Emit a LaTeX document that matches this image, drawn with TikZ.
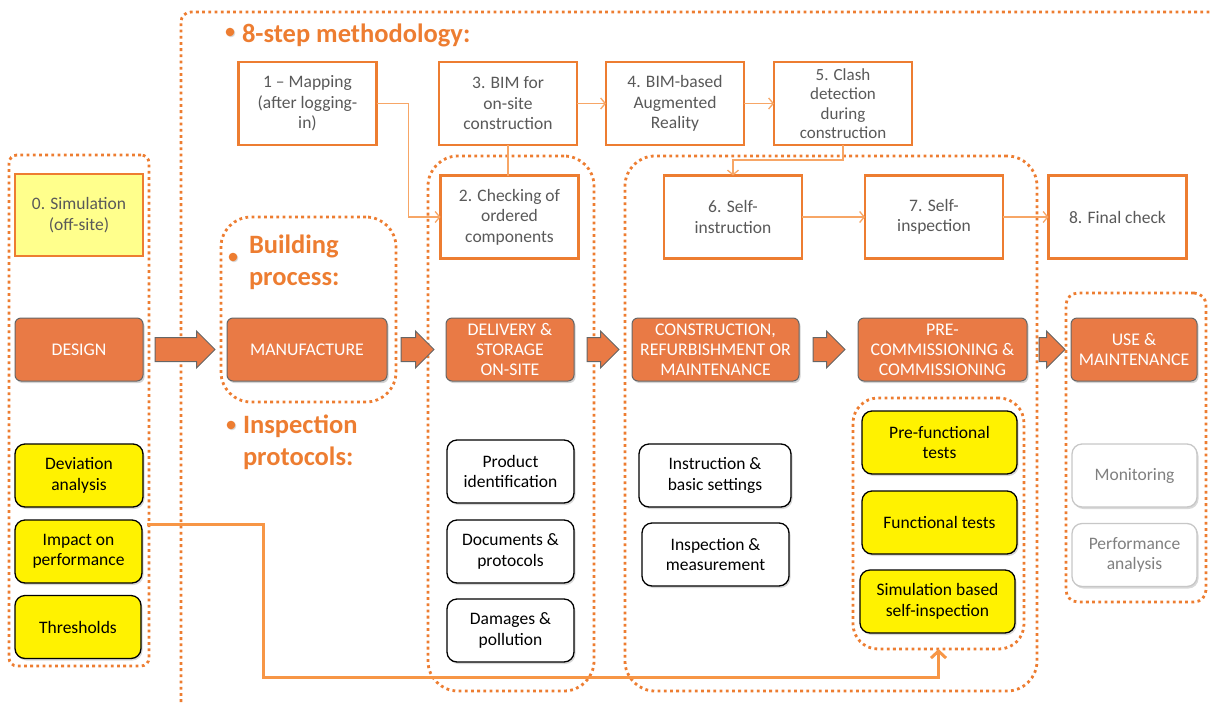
\documentclass[tikz,border=0pt]{standalone}
\usepackage{fontspec}
\setmainfont{Carlito}
\usetikzlibrary{shadows,arrows.meta,shapes.arrows,positioning}
\definecolor{accent}{RGB}{237,125,49}
\definecolor{phaseor}{RGB}{233,122,69}
\definecolor{linkor}{RGB}{247,166,102}
\definecolor{bigor}{RGB}{247,150,70}
\definecolor{txtgray}{RGB}{89,89,89}
\definecolor{paleyel}{RGB}{255,255,140}

\begin{document}
\begin{tikzpicture}[x=1pt,y=-1pt,font=\fontsize{17.5}{20.5}\selectfont,
  every node/.style={align=center,inner sep=2pt,outer sep=0pt},
  grp/.style={draw=accent,line width=2.8pt,dash pattern=on 2.8pt off 3.4pt,rounded corners=#1},
  grp/.default=28pt,
  stepbox/.style={draw=accent,line width=2.8pt,fill=white,text=txtgray,minimum width=138pt,minimum height=83pt},
  phase/.style={draw=black!60,line width=1pt,fill=phaseor,text=white,rounded corners=6pt,minimum height=63pt,
    font=\fontsize{17.8}{20}\selectfont,drop shadow={shadow xshift=1.5pt,shadow yshift=-2pt,opacity=.35}},
  blk/.style={single arrow,draw=black!60,line width=1pt,fill=phaseor,inner xsep=0pt,inner ysep=11.5pt,
    single arrow head extend=6.5pt,minimum width=0pt},
  proto/.style={draw=black,line width=1.3pt,fill=white,rounded corners=10pt,minimum height=63pt,
    drop shadow={shadow xshift=1.5pt,shadow yshift=-2pt,opacity=.3}},
  check/.style={proto,fill=yellow},
  later/.style={proto,draw=black!22,text=black!50},
  head/.style={text=accent,font=\fontsize{26.5}{31.5}\selectfont\bfseries,align=left,anchor=base west,inner sep=0pt},
  dot/.style={fill=accent,drop shadow={shadow xshift=1pt,shadow yshift=-1pt,opacity=.3}},
  link/.style={draw=linkor,line width=1.3pt,-{Straight Barb[length=4.5pt,width=11pt]}},
  feed/.style={draw=bigor,line width=3pt,-{Straight Barb[length=7pt,width=15pt]}}]
\useasboundingbox (0,0) rectangle (1210,702);

\draw[grp=10pt] (181,702) |- (1214,12);
\node[grp=8pt,minimum width=140pt,minimum height=511pt] (grpsim) at (79,410.5) {};
\node[grp=30pt,minimum width=175pt,minimum height=185pt] (grpbuild) at (308.5,309.5) {};
\node[grp=30pt,minimum width=166pt,minimum height=535pt] (grpdel) at (511,423.5) {};
\node[grp=30pt,minimum width=412pt,minimum height=535pt] (grpcon) at (831,423.5) {};
\node[grp=25pt,minimum width=171pt,minimum height=251pt] (tst) at (938.5,523.5) {};
\node[grp=12pt,minimum width=140pt,minimum height=309pt] (grpuse) at (1136,447.5) {};

\fill[dot] (230,32) circle (4.3pt);
\node[head] at (242,42) {8-step methodology:};
\fill[dot] (233,257) circle (4.3pt);
\node[head] at (249,285) {Building\\process:};
\fill[dot] (231,425) circle (4.3pt);
\node[head] at (243,465) {Inspection\\protocols:};

\node[stepbox,fill=paleyel,line width=2pt,minimum width=128pt,minimum height=82pt] (s0) at (79,215) {0. Simulation\\(off-site)};
\node[stepbox] (s1) at (307.5,103.5) {1 -- Mapping\\(after logging-\\in)};
\node[stepbox] (s3) at (508,103.5) {3. BIM for\\on-site\\construction};
\node[stepbox] (s4) at (675,103.5) {4. BIM-based\\Augmented\\Reality};
\node[stepbox,font=\fontsize{17}{19.5}\selectfont] (s5) at (843,103.5) {5. Clash\\detection\\during\\construction};
\node[stepbox] (s2) at (509.5,217) {2. Checking of\\ordered\\components};
\node[stepbox] (s6) at (733,217) {6. Self-\\instruction};
\node[stepbox] (s7) at (934,217) {7. Self-\\inspection};
\node[stepbox] (s8) at (1117.5,217) {8. Final check};

\node[phase,minimum width=128pt] (design) at (79,349.5) {DESIGN};
\node[phase,minimum width=160pt] (manuf) at (307,349.5) {MANUFACTURE};
\node[phase,minimum width=128pt] (deliv) at (510,349.5) {DELIVERY \&\\STORAGE\\ON-SITE};
\node[phase,minimum width=167pt] (constr) at (715.5,349.5) {CONSTRUCTION,\\REFURBISHMENT OR\\MAINTENANCE};
\node[phase,minimum width=169pt] (precom) at (942.5,349.5) {PRE-\\COMMISSIONING \&\\COMMISSIONING};
\node[phase,minimum width=126pt] (use) at (1134,349.5) {USE \&\\MAINTENANCE};

\node[blk,minimum height=60pt,right=12pt of design] {};
\node[blk,minimum height=33pt,right=14pt of manuf] {};
\node[blk,minimum height=32pt,right=13pt of deliv] {};
\node[blk,minimum height=32pt,right=14pt of constr] {};
\node[blk,minimum height=26pt,right=12pt of precom] {};

\node[check,minimum width=128pt] (dev) at (79,475.5) {Deviation\\analysis};
\node[check,minimum width=127pt] (imp) at (78.5,551.5) {Impact on\\performance};
\node[check,minimum width=126pt] (thr) at (78,627) {Thresholds};

\node[proto,minimum width=127pt] (prod) at (510.5,471.5) {Product\\identification};
\node[proto,minimum width=127pt] (docs) at (510.5,551.5) {Documents \&\\protocols};
\node[proto,minimum width=127pt] (dmg) at (510.5,630.5) {Damages \&\\pollution};
\node[proto,minimum width=152pt] (instr) at (715,475.5) {Instruction \&\\basic settings};
\node[proto,minimum width=147pt] (meas) at (715.5,554.5) {Inspection \&\\measurement};

\node[check,minimum width=155pt] (prefun) at (939.5,442.5) {Pre-functional\\tests};
\node[check,minimum width=155pt] (fun) at (939.5,522.5) {Functional tests};
\node[check,minimum width=155pt] (simself) at (937.5,601.5) {Simulation based\\self-inspection};

\node[later,minimum width=125pt] (mon) at (1134.5,475.5) {Monitoring};
\node[later,minimum width=125pt] (perf) at (1134.5,555) {Performance\\analysis};

\draw[link] (s1.east) -- ++(32,0) |- (s2.west);
\draw[draw=linkor,line width=1.3pt] (s3.south) -- (s3.south |- s2.north);
\draw[link] (s3) -- (s4);
\draw[link] (s4) -- (s5);
\draw[link] (s5.south) -- ++(0,15) -| (s6.north);
\draw[link] (s6) -- (s7);
\draw[link] (s7) -- (s8);

\coordinate (bend) at (263,677);
\draw[feed] ([xshift=5pt,yshift=-4pt]imp.north east) -| (bend) -| (tst.south);
\end{tikzpicture}
\end{document}
